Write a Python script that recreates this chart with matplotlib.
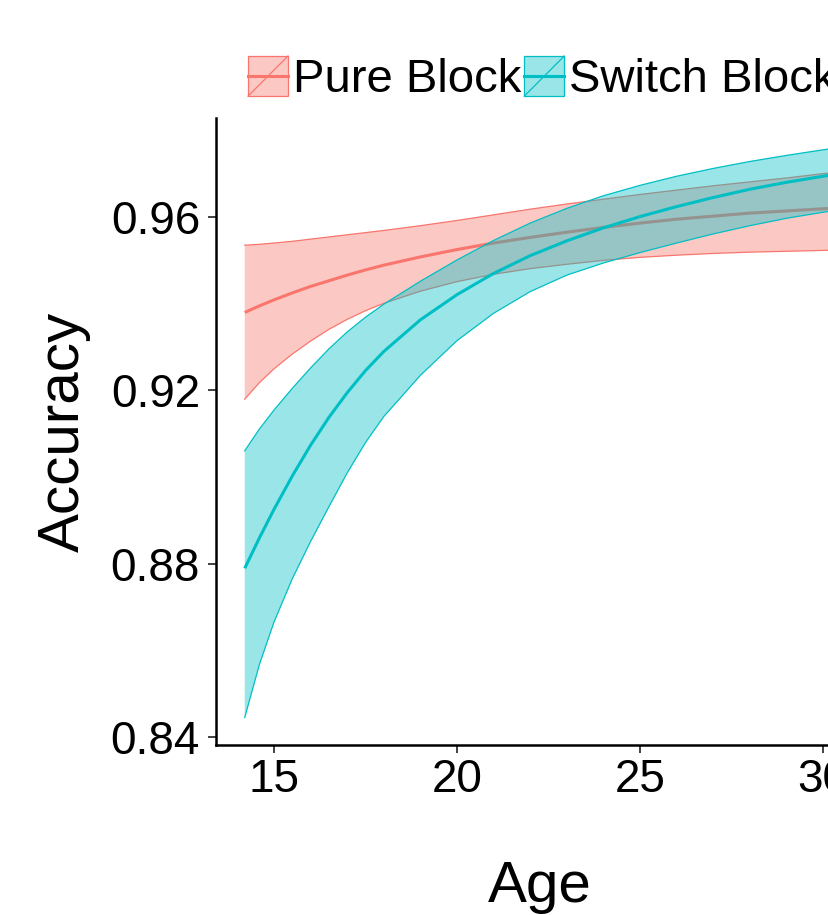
import matplotlib
matplotlib.use("Agg")
import matplotlib.pyplot as plt
from matplotlib.patches import Rectangle, Patch
from matplotlib.lines import Line2D
from matplotlib.legend_handler import HandlerBase

plt.rcParams['font.family'] = ['Liberation Sans', 'DejaVu Sans']

# ---- data ----
ages = [14.2, 14.6, 15.0, 15.5, 16.0, 16.5, 17.0, 17.5, 18.0, 19.0, 20.0,
        21.0, 22.0, 23.0, 24.0, 25.0, 26.0, 27.0, 28.0, 29.0, 30.0, 30.6]

pure_mean = [.9380, .9395, .9409, .9425, .9440, .9453, .9466, .9478, .9489, .9508, .9525,
             .9540, .9553, .9565, .9576, .9586, .9595, .9602, .9609, .9614, .9619, .9621]
pure_lo = [.9180, .9218, .9250, .9284, .9314, .9341, .9364, .9384, .9401, .9429, .9451,
           .9468, .9481, .9491, .9500, .9507, .9512, .9516, .9519, .9521, .9523, .9524]
pure_hi = [.9535, .9537, .9540, .9544, .9549, .9554, .9559, .9564, .9569, .9580, .9592,
           .9605, .9618, .9630, .9641, .9652, .9662, .9672, .9681, .9690, .9700, .9705]

switch_mean = [.8790, .8860, .8926, .9003, .9074, .9138, .9195, .9246, .9290, .9363, .9421,
               .9470, .9511, .9545, .9575, .9601, .9624, .9645, .9664, .9680, .9694, .9702]
switch_lo = [.8446, .8568, .8666, .8766, .8852, .8932, .9010, .9080, .9140, .9235, .9315,
             .9378, .9428, .9466, .9494, .9518, .9540, .9561, .9580, .9597, .9611, .9618]
switch_hi = [.9061, .9111, .9155, .9205, .9252, .9296, .9335, .9369, .9399, .9452, .9501,
             .9546, .9586, .9620, .9649, .9673, .9694, .9712, .9728, .9742, .9755, .9762]

groups = ["Pure Block", "Switch Block"]
colors = ["#F8766D", "#00BFC4"]
x_ticks = [15, 20, 25, 30]
y_ticks = [0.84, 0.88, 0.92, 0.96]
y_ticklabels = ["0.84", "0.88", "0.92", "0.96"]

fig = plt.figure(figsize=(8.29, 9.15), dpi=100)
ax = fig.add_axes([216/829, 1-745/915, (1006-216)/829, (745-118)/915])

series = [(pure_mean, pure_lo, pure_hi), (switch_mean, switch_lo, switch_hi)]
for (m, lo, hi), c in zip(series, colors):
    ax.fill_between(ages, lo, hi, facecolor=c, alpha=0.4, edgecolor='none', zorder=2)
    ax.plot(ages, lo, color=c, lw=0.9, zorder=2)
    ax.plot(ages, hi, color=c, lw=0.9, zorder=2)
    ax.plot(ages, m, color=c, lw=2.2, zorder=2, solid_capstyle='butt')

ax.set_xlim(13.415, 35)
ax.set_ylim(0.83826, 0.98283)
ax.set_xticks(x_ticks)
ax.set_xticklabels([str(t) for t in x_ticks])
ax.set_yticks(y_ticks)
ax.set_yticklabels(y_ticklabels)

for s in ['top', 'right']:
    ax.spines[s].set_visible(False)
for s in ['left', 'bottom']:
    ax.spines[s].set_linewidth(1.8)
    ax.spines[s].set_color('black')
ax.tick_params(axis='both', length=5.5, width=1.3, color='#333333', labelsize=33,
               labelcolor='black', pad=4)
ax.tick_params(axis='y', pad=6)

ax.set_xlabel("Age", fontsize=42)
ax.set_ylabel("Accuracy", fontsize=42)
ax.xaxis.label.set_va('center')
ax.yaxis.label.set_va('center')
ax.xaxis.set_label_coords((540-216)/790, (745-887)/627)
ax.yaxis.set_label_coords((64-216)/790, 0.5)


class RibbonHandler(HandlerBase):
    def __init__(self, color):
        super().__init__()
        self.color = color

    def create_artists(self, legend, orig_handle, xdescent, ydescent, width, height,
                       fontsize, trans):
        x0, y0 = -xdescent, -ydescent
        rect = Rectangle((x0, y0), width, height, facecolor=self.color, alpha=0.4,
                         edgecolor='none', transform=trans)
        border = Rectangle((x0, y0), width, height, facecolor='none',
                           edgecolor=self.color, lw=0.9, transform=trans)
        hline = Line2D([x0, x0 + width], [y0 + height/2]*2, color=self.color, lw=2.2,
                       transform=trans)
        diag = Line2D([x0, x0 + width], [y0, y0 + height], color=self.color, lw=0.9,
                      transform=trans)
        return [rect, border, hline, diag]


handles = [Patch(label=g) for g in groups]
hmap = {h: RibbonHandler(c) for h, c in zip(handles, colors)}
fs = 34
fpx = fs * 100 / 72
fig.legend(handles=handles, labels=groups, handler_map=hmap, loc='upper left',
           bbox_to_anchor=(248/829, 1-56/915), ncol=2, frameon=False, fontsize=fs,
           handlelength=40/fpx, handleheight=44/fpx, handletextpad=5/fpx,
           columnspacing=3/fpx, borderpad=0, borderaxespad=0)

fig.savefig("out.png", dpi=100)
